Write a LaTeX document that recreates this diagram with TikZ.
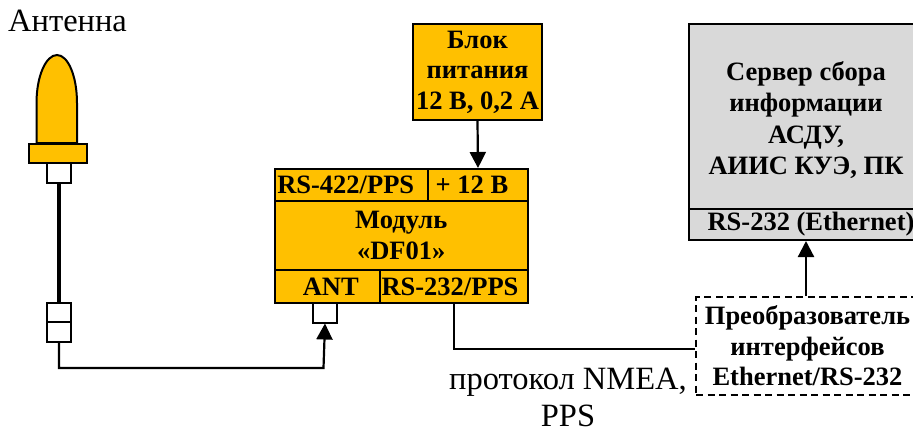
\documentclass[tikz,border=0pt]{standalone}
\usepackage{fontspec}
\setmainfont{Liberation Serif}
\usetikzlibrary{arrows.meta}
\definecolor{amber}{HTML}{FFC000}
\definecolor{panel}{HTML}{D9D9D9}
\tikzset{
  x=1pt,y=-1pt,
  cell/.style={draw=black,line width=2pt,fill=amber,inner sep=0pt,anchor=north west,align=center,font=\fontsize{26.5}{30.5}\selectfont\bfseries},
  greycell/.style={cell,fill=panel},
  port/.style={draw=black,line width=2pt,fill=white,inner sep=0pt,anchor=north west,minimum width=24pt,minimum height=19.5pt},
  wire/.style={draw=black,line width=2.2pt},
  thick wire/.style={draw=black,line width=4pt},
  feed/.style={wire,-{Triangle[length=16pt,width=16pt]}},
  plain label/.style={inner sep=0pt,align=center,font=\fontsize{32.5}{37}\selectfont},
}
\begin{document}
\begin{tikzpicture}
\useasboundingbox (0,0) rectangle (913,432);
% antenna
\draw[draw=black,line width=2pt,fill=amber] (36.5,143) -- (36.5,103) .. controls (36.5,76) and (46,55) .. (57,55) .. controls (68,55) and (77,76) .. (77,103) -- (77,143) -- cycle;
\node[cell,minimum width=58pt,minimum height=19pt] (flange) at (28,143) {};
\node[port] (antbase) at (46,162) {};
\node[port] (plugA) at (46,301.5) {};
\node[port] (plugB) at (46,321) {};
\node[port] (antport) at (312,302) {};
% power unit
\node[cell,minimum width=129pt,minimum height=96pt] (power) at (412,23) {Блок\\питания\\12 В, 0,2 А};
% module
\node[cell,minimum width=153.5pt,minimum height=32pt] (rs422) at (273.5,168) {\hspace*{-11pt}RS-422/PPS};
\node[cell,minimum width=100pt,minimum height=32pt] (plus) at (427,168) {\hspace*{-12pt}+ 12 В};
\node[cell,minimum width=253.5pt,minimum height=69pt] (module) at (273.5,200) {Модуль\\«DF01»};
\node[cell,minimum width=105.5pt,minimum height=33pt] (ant) at (273.5,269) {\hspace*{7pt}ANT};
\node[cell,minimum width=148pt,minimum height=33pt] (rs232) at (379,269) {\hspace*{-8pt}RS-232/PPS};
% server (its right edge runs off the page)
\node[greycell,minimum width=244pt,minimum height=185pt] (server) at (688,23) {};
\node[inner sep=0pt,align=center,font=\fontsize{26.5}{31.5}\selectfont\bfseries] (servertext) at (806,120) {Сервер сбора\\информации\\АСДУ,\\АИИС КУЭ, ПК};
\node[greycell,minimum width=244pt,minimum height=31pt] (srvport) at (688,208) {RS-232 (Ethernet)};
% converter (its right edge runs off the page)
\node[draw=black,line width=2pt,dash pattern=on 7pt off 4.5pt,inner sep=0pt,anchor=north west,align=center,minimum width=223pt,minimum height=98pt,font=\fontsize{26.5}{30.5}\selectfont\bfseries] (conv) at (695,296) {Преобразователь\\интерфейсов\\Ethernet/RS-232};
\coordinate (convin) at (695,349);
\coordinate (convup) at (806,296);
% labels
\node[plain label,anchor=north west] (antlabel) at (8,10) {Антенна};
\node[plain label,anchor=north] (nmea) at (568,368) {протокол NMEA,\\PPS};
% connectors
\draw[thick wire] (antbase.south) -- (plugA.north);
\draw[feed] (plugB.south) |- (323.5,368) -- (antport.south);
\draw[feed] (power.south) -- (plus.north);
\draw[wire] (rs232.south) |- (convin);
\draw[feed] (convup) -- (convup |- srvport.south);
\end{tikzpicture}
\end{document}
